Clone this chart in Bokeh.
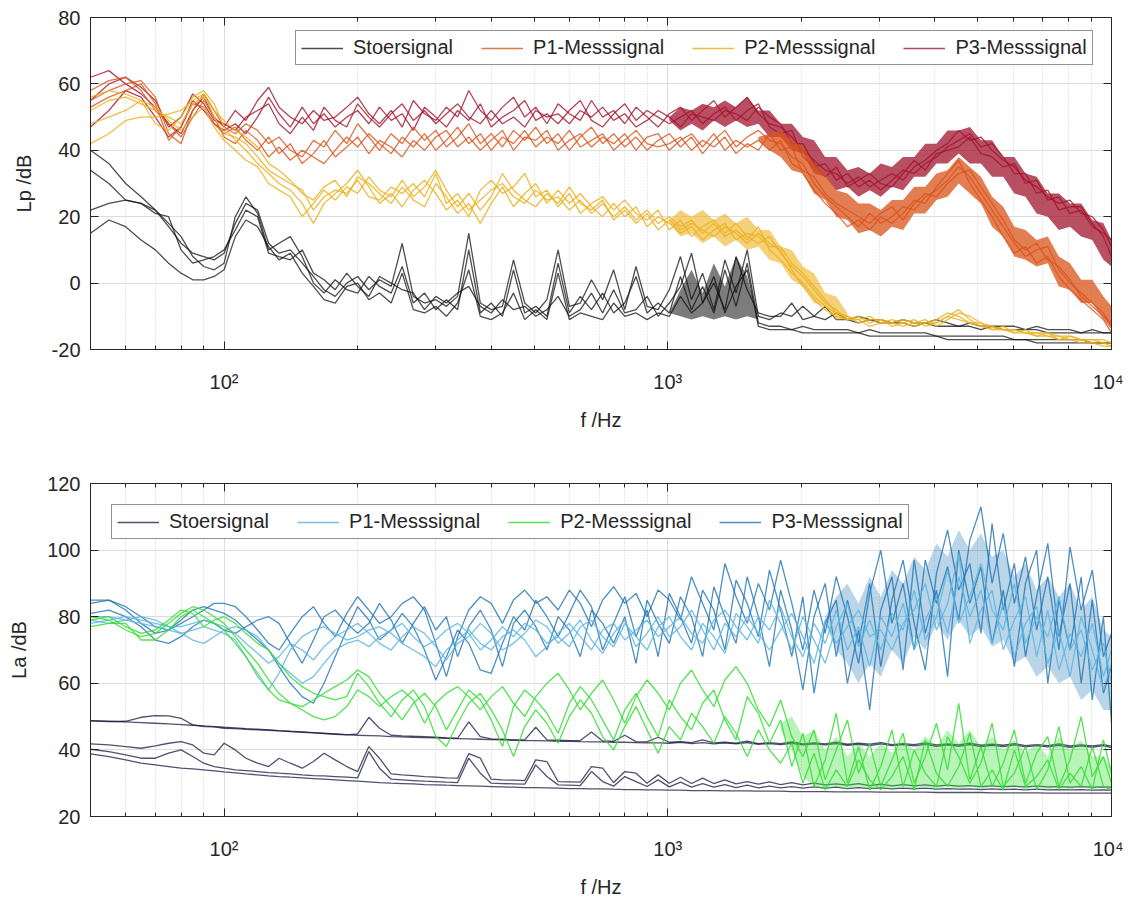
from bokeh.plotting import figure
from bokeh.models import LogAxis, LinearAxis, FixedTicker, Legend, LegendItem
from bokeh.layouts import column
from bokeh.embed import file_html
from bokeh.resources import INLINE

# ---------------- data ----------------
f_hz = [50, 55, 60, 65, 70, 75, 80, 85, 90, 95,
        100, 106, 112, 119, 126, 133, 141, 150, 159, 168,
        178, 189, 200, 212, 224, 238, 252, 267, 283, 300,
        317, 336, 356, 378, 400, 424, 449, 476, 504, 534,
        566, 600, 635, 673, 713, 755, 800, 848, 898, 951,
        1008, 1068, 1131, 1198, 1270, 1345, 1425, 1510, 1600, 1695,
        1796, 1903, 2016, 2136, 2263, 2397, 2540, 2691, 2851, 3020,
        3200, 3390, 3592, 3805, 4032, 4271, 4525, 4794, 5079, 5381,
        5701, 6040, 6400, 6780, 7184, 7611, 8063, 8543, 9051, 9589, 10000]

# top panel: Lp /dB
lp_stoer_1 = [40, 36, 30, 26, 22, 17, 12, 9, 8, 7,
              9, 18, 24, 22, 12, 9, 10, 6, 2, -2,
              -4, 0, 2, -2, 1, -1, 12, -4, -6, -5,
              -7, -4, 15, -6, -8, -7, 7, -6, -9, -5,
              10, -7, -6, 1, -5, 4, -8, 5, -7, -8,
              -2, 8, -5, 3, -8, 7, -3, 10, -10, -11,
              -9, -10, -7, -10, -11, -9, -11, -10, -11, -11,
              -12, -11, -12, -12, -11, -12, -13, -12, -13, -13,
              -13, -13, -14, -13, -14, -14, -14, -15, -14, -15, -15]
lp_stoer_2 = [34, 30, 25, 24, 22, 18, 14, 8, 5, 4,
              6, 20, 26, 21, 10, 12, 14, 8, 0, -3,
              1, -2, -3, 2, -1, -3, 5, -6, -3, -8,
              -5, -8, 10, -9, -6, -10, 4, -9, -7, -10,
              6, -9, -4, -8, -3, -9, -6, 2, -9, -6,
              -9, 2, -8, -1, -9, 4, -7, 6, -12, -13,
              -13, -14, -13, -14, -14, -14, -14, -15, -14, -15,
              -15, -15, -15, -15, -16, -16, -16, -16, -16, -16,
              -16, -17, -17, -17, -17, -17, -17, -17, -18, -18, -18]
lp_stoer_3 = [22, 24, 25, 24, 21, 20, 10, 6, 7, 8,
              10, 16, 22, 20, 9, 8, 7, 10, 3, 1,
              -2, 3, -1, -4, 2, 0, -2, -3, -8, -4,
              -6, -3, -1, -7, -9, -5, -8, -7, -10, -8,
              -4, -10, -8, -3, -9, -2, -9, -8, -4, -10,
              -6, -1, 9, -6, 0, -8, 8, -2, -9, -10,
              -10, -6, -11, -10, -7, -11, -11, -12, -11, -12,
              -12, -12, -13, -12, -13, -13, -13, -13, -14, -13,
              -14, -14, -14, -14, -15, -15, -15, -15, -15, -15, -15]
lp_stoer_4 = [15, 19, 17, 13, 10, 6, 3, 1, 1, 2,
              4, 14, 19, 17, 11, 7, 9, 3, -1, -5,
              -6, -1, 0, -5, -3, -6, 3, -8, -9, -7,
              -10, -6, 4, -10, -11, -9, -3, -11, -8, -11,
              3, -11, -9, -10, -11, -6, -10, -9, -11, -9,
              -10, -4, -9, -6, 2, -9, -1, 4, -13, -14,
              -14, -14, -15, -15, -15, -15, -15, -15, -16, -16,
              -16, -16, -16, -16, -16, -17, -17, -17, -17, -17,
              -17, -17, -17, -18, -18, -18, -18, -18, -18, -18, -18]
# dense part of the Stoersignal spectra (1.0 - 1.6 kHz), lower / upper edge
lp_stoer_band_lo = [-9, -10, -11, -10, -11, -10, -11, -10, -11]
lp_stoer_band_hi = [-9, -2, 4, -3, 6, -1, 8, 2, -11]

lp_p1_1 = [55, 58, 60, 61, 56, 45, 42, 52, 57, 52,
           47, 45, 48, 46, 42, 44, 40, 38, 43, 41,
           46, 42, 48, 44, 40, 45, 42, 47, 43, 46,
           41, 44, 48, 42, 45, 41, 46, 43, 47, 42,
           45, 40, 44, 47, 42, 45, 41, 44, 40, 43,
           45, 41, 44, 39, 43, 46, 41, 44, 46, 43,
           42, 38, 36, 30, 26, 23, 20, 17, 21, 18,
           20, 23, 22, 26, 28, 31, 35, 32, 27, 22,
           17, 12, 8, 10, 11, 4, 0, -3, -6, -9, -13]
lp_p1_2 = [58, 61, 62, 58, 52, 48, 44, 50, 55, 50,
           44, 42, 46, 43, 38, 41, 37, 40, 38, 36,
           40, 44, 41, 45, 42, 39, 44, 41, 45, 40,
           43, 47, 42, 45, 40, 44, 42, 46, 41, 44,
           42, 46, 41, 43, 45, 40, 43, 46, 42, 41,
           42, 44, 40, 43, 41, 44, 39, 42, 40, 45,
           40, 41, 33, 28, 24, 21, 17, 19, 16, 20,
           18, 21, 25, 24, 29, 33, 37, 30, 25, 20,
           14, 9, 11, 6, 8, 2, -2, -5, -8, -11, -15]
lp_p1_3 = [53, 56, 58, 60, 54, 43, 47, 54, 53, 48,
           45, 47, 43, 40, 44, 39, 42, 36, 39, 43,
           38, 41, 44, 39, 43, 41, 38, 43, 40, 44,
           46, 41, 44, 40, 43, 46, 40, 44, 43, 46,
           40, 43, 45, 41, 44, 42, 45, 40, 44, 45,
           40, 43, 45, 41, 45, 40, 43, 41, 43, 40,
           43, 36, 34, 32, 27, 24, 22, 20, 18, 21,
           23, 19, 24, 27, 26, 30, 33, 34, 29, 24,
           19, 13, 10, 12, 7, 5, 1, -4, -7, -10, -12]
# dense part of P1 (1.6 - 10 kHz)
lp_p1_band_lo = [43, 40, 38, 34, 33, 27, 25, 20, 19, 15, 16, 14, 17, 16, 21, 21, 25,
                 26, 30, 27, 24, 17, 14, 8, 7, 5, 6, -1, -2, -6, -6, -11, -14]
lp_p1_band_hi = [44, 45, 46, 43, 41, 36, 33, 28, 27, 24, 24, 22, 25, 25, 29, 29, 33,
                 34, 38, 35, 32, 26, 23, 17, 16, 13, 14, 8, 6, 1, 1, -4, -7]

lp_p2_1 = [42, 45, 49, 50, 50, 51, 52, 55, 57, 50,
           45, 44, 42, 38, 34, 32, 30, 28, 22, 26,
           28, 27, 31, 26, 25, 29, 27, 30, 26, 33,
           24, 27, 22, 25, 28, 30, 26, 24, 28, 25,
           26, 22, 25, 21, 24, 20, 23, 19, 22, 18,
           20, 17, 19, 15, 18, 14, 16, 13, 17, 10,
           7, 3, 0, -4, -7, -9, -10, -11, -10, -12,
           -12, -11, -12, -12, -11, -9, -10, -12, -13, -14,
           -14, -15, -15, -16, -16, -17, -17, -18, -18, -19, -19]
lp_p2_2 = [56, 58, 57, 55, 48, 46, 50, 56, 58, 54,
           47, 43, 40, 36, 33, 30, 28, 24, 18, 24,
           27, 30, 34, 29, 24, 27, 23, 28, 31, 27,
           22, 25, 20, 28, 31, 27, 29, 33, 26, 28,
           23, 27, 21, 24, 26, 22, 25, 21, 19, 22,
           16, 19, 14, 17, 19, 15, 18, 14, 12, 14,
           9, 5, 2, -2, -6, -8, -11, -10, -12, -11,
           -13, -12, -11, -13, -12, -10, -8, -11, -13, -13,
           -14, -14, -15, -15, -16, -16, -17, -17, -17, -18, -18]
lp_p2_3 = [52, 55, 56, 54, 52, 50, 48, 54, 56, 52,
           49, 46, 44, 41, 36, 34, 31, 27, 25, 29,
           31, 26, 32, 30, 27, 24, 29, 25, 23, 30,
           26, 21, 24, 18, 24, 29, 23, 27, 30, 24,
           28, 24, 27, 23, 20, 24, 20, 23, 17, 20,
           18, 15, 17, 13, 16, 18, 13, 15, 14, 11,
           11, 6, 3, -1, -5, -9, -10, -12, -11, -11,
           -12, -13, -12, -11, -13, -11, -9, -10, -12, -14,
           -13, -15, -14, -16, -15, -17, -16, -17, -18, -18, -19]
lp_p2_4 = [48, 50, 52, 55, 53, 49, 46, 50, 53, 47,
           43, 40, 37, 35, 30, 28, 26, 20, 24, 28,
           25, 29, 27, 32, 28, 26, 31, 26, 29, 34,
           28, 23, 27, 22, 26, 33, 28, 25, 23, 27,
           24, 29, 24, 22, 25, 19, 22, 18, 21, 16,
           19, 16, 18, 16, 14, 17, 15, 12, 15, 12,
           10, 4, -1, -5, -8, -10, -11, -11, -13, -12,
           -11, -12, -13, -12, -12, -10, -11, -12, -12, -13,
           -14, -14, -15, -15, -15, -16, -16, -17, -17, -17, -18]
# dense part of P2 (1.0 - 2.5 kHz)
lp_p2_band_lo = [18, 14, 15, 12, 14, 11, 13, 10, 11, 7, 6, 1, -1, -6, -7, -11, -11]
lp_p2_band_hi = [19, 22, 20, 22, 19, 21, 18, 20, 16, 16, 11, 10, 5, 3, -3, -4, -9]

lp_p3_1 = [62, 64, 60, 57, 53, 48, 45, 52, 56, 50,
           47, 52, 49, 55, 59, 53, 50, 48, 52, 49,
           50, 53, 56, 51, 48, 52, 47, 55, 51, 49,
           53, 50, 58, 52, 49, 53, 56, 50, 53, 48,
           54, 51, 49, 55, 50, 52, 48, 53, 50, 47,
           51, 53, 49, 52, 55, 50, 53, 56, 51, 48,
           47, 44, 40, 37, 34, 33, 30, 32, 29, 31,
           33, 31, 35, 37, 40, 42, 46, 43, 44, 40,
           37, 35, 31, 29, 26, 24, 25, 21, 20, 16, 11]
lp_p3_2 = [47, 52, 58, 56, 50, 44, 47, 55, 52, 48,
           46, 48, 45, 50, 56, 51, 47, 53, 48, 51,
           47, 50, 52, 48, 53, 49, 51, 46, 53, 50,
           47, 52, 49, 54, 47, 50, 52, 55, 49, 51,
           48, 52, 55, 49, 47, 51, 54, 49, 52, 50,
           48, 50, 52, 48, 51, 53, 49, 52, 54, 47,
           45, 46, 38, 35, 36, 31, 33, 29, 31, 28,
           31, 34, 33, 36, 38, 41, 43, 45, 41, 42,
           38, 33, 33, 27, 28, 22, 23, 23, 18, 14, 8]
lp_p3_3 = [55, 60, 62, 59, 55, 47, 50, 57, 54, 49,
           48, 46, 50, 52, 54, 48, 45, 50, 46, 53,
           49, 47, 54, 50, 47, 51, 54, 49, 52, 48,
           51, 54, 50, 48, 52, 48, 50, 47, 52, 50,
           51, 48, 52, 50, 53, 49, 51, 47, 49, 52,
           50, 47, 51, 50, 49, 52, 51, 49, 53, 50,
           48, 42, 42, 36, 32, 35, 29, 31, 33, 30,
           29, 33, 37, 34, 39, 40, 41, 44, 39, 38,
           35, 36, 30, 31, 25, 26, 21, 22, 17, 15, 13]
# dense part of P3 (1.0 - 10 kHz)
lp_p3_band_lo = [49, 46, 48, 46, 49, 47, 49, 47, 48, 44, 44, 40, 39, 33, 32, 28, 29, 26, 28, 26, 29,
                 28, 32, 32, 36, 36, 39, 36, 36, 32, 32, 27, 26, 21, 20, 16, 17, 14, 13, 7, 5]
lp_p3_band_hi = [50, 53, 52, 54, 53, 55, 53, 56, 52, 52, 48, 48, 44, 43, 38, 38, 34, 35, 33, 36, 35,
                 38, 38, 42, 42, 46, 46, 47, 43, 43, 38, 38, 33, 32, 27, 27, 24, 24, 19, 18, 13]

# bottom panel: La /dB
la_stoer_1 = [48.8, 48.6, 48.4, 48.2, 48.0, 47.8, 47.6, 47.4, 47.2, 47.0,
              46.8, 46.6, 46.4, 46.2, 46.0, 45.8, 45.6, 45.4, 45.2, 45.0,
              44.8, 44.6, 44.4, 44.3, 44.2, 44.0, 43.9, 43.8, 43.7, 43.6,
              43.5, 43.4, 43.3, 43.2, 43.1, 43.0, 42.9, 42.8, 42.8, 42.7,
              42.6, 42.6, 42.5, 42.4, 42.4, 42.3, 42.3, 42.2, 42.1, 42.1,
              42.0, 42.3, 41.9, 42.2, 41.8, 42.1, 41.8, 42.2, 41.7, 41.9,
              41.6, 42.0, 41.5, 41.8, 41.5, 41.9, 41.4, 41.7, 41.3, 41.8,
              41.3, 41.6, 41.2, 41.7, 41.1, 41.5, 41.1, 41.6, 41.0, 41.4,
              41.0, 41.5, 40.9, 41.3, 40.9, 41.4, 40.8, 41.2, 40.8, 41.3, 40.7]
la_stoer_2 = [48.7, 48.5, 48.6, 49.8, 50.3, 50.2, 49.5, 47.5, 47.0, 46.9,
              46.5, 46.4, 46.2, 46.0, 45.9, 45.7, 45.5, 45.3, 45.1, 44.9,
              44.7, 44.5, 44.8, 49.8, 46.5, 44.4, 44.2, 44.1, 44.0, 43.8,
              43.6, 43.5, 48.4, 44.0, 43.3, 43.2, 43.0, 43.0, 46.8, 43.0,
              42.9, 42.8, 42.8, 45.4, 42.7, 42.6, 44.4, 42.5, 42.4, 43.8,
              42.3, 42.5, 42.2, 43.0, 42.1, 42.3, 42.0, 42.6, 41.9, 42.2,
              41.9, 42.4, 41.8, 42.1, 41.8, 42.3, 41.7, 42.0, 41.7, 42.2,
              41.6, 41.9, 41.6, 42.1, 41.5, 41.8, 41.5, 42.0, 41.4, 41.7,
              41.4, 41.9, 41.3, 41.6, 41.3, 41.8, 41.2, 41.5, 41.2, 41.6, 41.1]
la_stoer_3 = [41.8, 41.5, 41.0, 40.5, 41.2, 42.0, 42.5, 41.5, 39.0, 38.5,
              42.0, 40.0, 37.5, 36.0, 35.0, 37.5, 36.0, 34.5, 36.5, 39.0,
              37.0, 35.0, 33.5, 41.0, 37.5, 32.8, 32.5, 32.3, 32.0, 31.8,
              31.6, 31.5, 38.9, 37.5, 31.2, 31.0, 30.9, 30.8, 37.0, 36.5,
              30.5, 30.4, 30.3, 35.0, 34.5, 30.2, 33.5, 33.0, 30.0, 32.5,
              30.0, 31.8, 29.9, 31.5, 29.9, 31.0, 29.8, 30.5, 29.7, 30.4,
              29.6, 30.2, 29.5, 30.0, 29.5, 29.8, 29.4, 29.9, 29.3, 29.7,
              29.2, 29.6, 29.2, 29.5, 29.1, 29.4, 29.1, 29.3, 29.0, 29.2,
              29.0, 29.1, 28.9, 29.1, 28.9, 29.0, 28.8, 29.0, 28.8, 28.9, 28.8]
la_stoer_4 = [40.2, 39.5, 38.5, 37.5, 37.5, 39.0, 40.0, 38.0, 36.0, 35.0,
              34.5, 34.0, 33.8, 33.5, 33.2, 33.0, 32.8, 32.5, 32.3, 32.2,
              32.0, 31.8, 31.6, 39.5, 34.5, 31.2, 31.0, 30.8, 30.6, 30.5,
              30.3, 30.2, 37.5, 33.0, 30.0, 29.9, 29.8, 29.7, 35.5, 32.0,
              29.5, 29.4, 29.3, 33.5, 30.5, 29.1, 32.0, 30.5, 29.0, 31.0,
              28.9, 30.3, 28.8, 29.9, 28.8, 29.6, 28.7, 29.4, 28.6, 29.1,
              28.6, 29.0, 28.5, 28.9, 28.5, 28.8, 28.4, 28.7, 28.4, 28.6,
              28.3, 28.5, 28.3, 28.5, 28.2, 28.4, 28.2, 28.3, 28.1, 28.3,
              28.1, 28.2, 28.0, 28.2, 28.0, 28.1, 28.0, 28.1, 27.9, 28.0, 27.9]
la_stoer_5 = [38.8, 38.0, 37.0, 36.0, 35.5, 35.0, 34.5, 34.3, 34.0, 33.7,
              33.4, 33.1, 32.8, 32.5, 32.2, 32.0, 31.8, 31.6, 31.4, 31.2,
              31.0, 30.8, 30.6, 30.4, 30.2, 30.0, 29.9, 29.8, 29.6, 29.5,
              29.4, 29.3, 29.2, 29.1, 29.0, 28.9, 28.8, 28.7, 28.7, 28.6,
              28.5, 28.4, 28.4, 28.3, 28.3, 28.2, 28.1, 28.1, 28.0, 28.0,
              27.9, 27.9, 27.8, 27.8, 27.8, 27.7, 27.7, 27.7, 27.6, 27.6,
              27.6, 27.5, 27.5, 27.5, 27.5, 27.4, 27.4, 27.4, 27.4, 27.3,
              27.3, 27.3, 27.3, 27.3, 27.2, 27.2, 27.2, 27.2, 27.2, 27.1,
              27.1, 27.1, 27.1, 27.1, 27.0, 27.0, 27.0, 27.0, 27.0, 27.0, 27.0]

la_p1_1 = [80, 80, 79, 78, 77, 76, 75, 76, 77, 76,
           75, 73, 68, 62, 58, 63, 70, 74, 76, 77,
           75, 73, 74, 76, 77, 75, 72, 70, 68, 65,
           70, 73, 76, 72, 70, 74, 76, 73, 68, 71,
           75, 78, 74, 70, 76, 78, 73, 76, 79, 74,
           77, 80, 75, 72, 79, 82, 77, 73, 80, 76,
           83, 74, 68, 78, 72, 82, 70, 77, 65, 80,
           74, 84, 70, 79, 86, 75, 92, 80, 88, 72,
           84, 68, 78, 83, 66, 76, 62, 80, 70, 58, 66]
la_p1_2 = [79, 78, 79, 80, 79, 77, 75, 73, 72, 74,
           76, 77, 76, 74, 70, 66, 63, 60, 62, 66,
           70, 72, 73, 71, 74, 76, 78, 74, 71, 73,
           76, 78, 75, 70, 73, 77, 74, 78, 76, 72,
           74, 71, 77, 79, 74, 71, 78, 74, 70, 77,
           80, 74, 70, 78, 74, 69, 81, 77, 72, 85,
           78, 70, 80, 73, 66, 77, 84, 71, 79, 70,
           81, 76, 88, 73, 80, 94, 78, 86, 96, 82,
           76, 90, 72, 80, 74, 86, 70, 76, 64, 72, 60]
la_p1_3 = [78, 79, 80, 79, 78, 77, 77, 78, 79, 78,
           77, 75, 72, 69, 66, 68, 72, 70, 67, 71,
           74, 76, 78, 75, 72, 70, 74, 77, 75, 71,
           67, 72, 74, 78, 75, 70, 72, 75, 79, 77,
           72, 75, 79, 73, 69, 75, 79, 71, 75, 80,
           74, 77, 82, 76, 70, 78, 74, 80, 75, 70,
           76, 81, 74, 66, 79, 72, 77, 82, 74, 76,
           70, 78, 82, 90, 76, 84, 99, 72, 82, 88,
           70, 79, 86, 68, 82, 64, 75, 68, 78, 62, 70]

la_p2_1 = [80, 79, 76, 74, 75, 78, 81, 83, 82, 80,
           78, 74, 70, 66, 61, 57, 54, 52, 50, 49,
           50, 53, 58, 56, 53, 56, 58, 55, 48, 54,
           57, 59, 56, 52, 56, 59, 54, 50, 56, 60,
           63, 58, 52, 57, 61, 55, 48, 56, 61, 57,
           52, 60, 64, 58, 53, 61, 65, 60, 52, 47,
           55, 44, 38, 46, 31, 40, 49, 33, 42, 29,
           37, 45, 30, 38, 48, 34, 54, 31, 41, 29,
           36, 46, 30, 39, 44, 29, 37, 50, 32, 38, 30]
la_p2_2 = [77, 78, 78, 73, 73, 76, 80, 82, 80, 78,
           76, 72, 68, 63, 58, 55, 54, 53, 55, 57,
           59, 61, 64, 62, 57, 53, 49, 54, 57, 53,
           46, 52, 58, 55, 49, 41, 53, 58, 55, 51,
           45, 54, 59, 55, 49, 43, 52, 57, 50, 44,
           55, 50, 46, 54, 58, 49, 43, 56, 51, 42,
           49, 35, 45, 29, 37, 51, 30, 41, 28, 35,
           46, 29, 40, 33, 29, 44, 38, 30, 36, 48,
           29, 33, 41, 28, 34, 47, 30, 35, 28, 43, 33]
la_p2_3 = [79, 80, 77, 75, 76, 79, 82, 81, 77, 79,
           80, 78, 75, 72, 70, 66, 62, 59, 57, 56,
           55, 56, 63, 59, 54, 50, 55, 58, 53, 44,
           41, 48, 54, 57, 52, 46, 38, 47, 52, 48,
           42, 50, 55, 51, 44, 40, 47, 53, 46, 39,
           47, 43, 51, 47, 42, 50, 45, 38, 46, 40,
           36, 42, 30, 39, 28, 34, 29, 37, 31, 28,
           32, 38, 28, 43, 33, 29, 35, 45, 29, 34,
           28, 40, 29, 32, 37, 28, 33, 29, 41, 29, 28]
# dense part of P2 (1.8 - 10 kHz)
la_p2_band_lo = [46, 40, 32, 29, 28, 29, 28, 29, 28, 29, 28, 29, 28, 29, 28, 29,
                 28, 29, 28, 29, 28, 29, 28, 29, 28, 29, 28, 29, 28, 29, 28]
la_p2_band_hi = [48, 50, 44, 46, 40, 44, 38, 42, 38, 42, 39, 43, 40, 44, 41, 46,
                 42, 46, 41, 44, 40, 43, 39, 42, 38, 44, 40, 43, 38, 38, 35]

la_p3_1 = [85, 85, 83, 80, 77, 76, 78, 80, 82, 84,
           84, 83, 80, 76, 72, 70, 75, 80, 83, 78,
           74, 81, 86, 82, 78, 80, 84, 86, 82, 72,
           62, 74, 82, 86, 84, 78, 85, 88, 84, 86,
           82, 88, 84, 77, 85, 89, 84, 87, 80, 88,
           85, 79, 92, 84, 76, 96, 86, 78, 90, 82,
           97, 84, 70, 88, 75, 92, 80, 66, 87, 100,
           78, 90, 70, 97, 84, 95, 79, 103, 113, 90,
           105, 84, 98, 76, 92, 70, 101, 82, 94, 68, 75]
la_p3_2 = [84, 85, 82, 78, 75, 76, 79, 82, 83, 82,
           81, 79, 76, 73, 70, 65, 60, 56, 54, 60,
           68, 76, 83, 79, 73, 76, 81, 77, 70, 61,
           68, 76, 72, 64, 63, 72, 80, 76, 85, 80,
           74, 81, 88, 83, 70, 78, 86, 74, 82, 68,
           87, 80, 72, 88, 82, 70, 91, 84, 74, 94,
           82, 68, 86, 57, 78, 85, 60, 76, 52, 82,
           92, 64, 97, 75, 88, 62, 100, 84, 95, 72,
           88, 65, 90, 100, 60, 85, 70, 92, 55, 80, 48]
la_p3_3 = [81, 82, 80, 77, 73, 72, 74, 77, 79, 78,
           76, 75, 77, 79, 80, 78, 72, 66, 73, 80,
           82, 78, 75, 78, 84, 79, 72, 78, 83, 76,
           80, 68, 77, 82, 76, 65, 78, 82, 77, 70,
           80, 76, 68, 82, 78, 72, 80, 66, 85, 78,
           72, 86, 80, 68, 89, 80, 72, 92, 80, 65,
           88, 76, 58, 80, 90, 68, 85, 72, 90, 65,
           85, 97, 78, 64, 93, 106, 88, 96, 75, 108,
           82, 96, 68, 86, 102, 74, 90, 60, 85, 57, 65]
# dense part of P3 (2.3 - 10 kHz)
la_p3_band_lo = [78, 70, 66, 60, 66, 62, 70, 66, 74, 70, 78, 73, 79, 74,
                 77, 71, 73, 66, 68, 62, 65, 60, 62, 55, 58, 52, 52]
la_p3_band_hi = [80, 86, 90, 84, 92, 86, 94, 90, 98, 94, 102, 98, 106, 100,
                 105, 98, 100, 92, 96, 88, 92, 86, 90, 82, 86, 76, 74]

legend_labels = ["Stoersignal", "P1-Messsignal", "P2-Messsignal", "P3-Messsignal"]
x_major = [100, 1000, 10000]
x_minor = [50, 60, 70, 80, 90, 200, 300, 400, 500, 600, 700, 800, 900,
           2000, 3000, 4000, 5000, 6000, 7000, 8000, 9000]
x_major_labels = {100: "10\u00b2", 1000: "10\u00b3", 10000: "10\u2074"}
lp_ticks = [-20, 0, 20, 40, 60, 80]
la_ticks = [20, 40, 60, 80, 100, 120]

# ---------------- styling ----------------
FONT = "Liberation Sans"
TXT = "#262626"
AX = "#262626"


def make_fig(yr, yticks, ylabel, fh, btop, bbot):
    p = figure(x_axis_type="log", x_range=(50, 10000), y_range=yr,
               frame_width=1021, frame_height=fh,
               min_border_left=90, min_border_right=12,
               min_border_top=btop, min_border_bottom=bbot,
               output_backend="svg", toolbar_location=None)
    p.background_fill_color = "white"
    p.border_fill_color = "white"
    p.outline_line_color = AX
    xt = FixedTicker(ticks=x_major, minor_ticks=x_minor)
    yt = FixedTicker(ticks=yticks, minor_ticks=[])
    xa = p.xaxis[0]
    xa.ticker = xt
    xa.major_label_overrides = x_major_labels
    ya = p.yaxis[0]
    ya.ticker = yt
    ya.major_label_overrides = {t: str(t) for t in yticks}
    for a in (xa, ya):
        a.major_tick_in = 8
        a.major_tick_out = 0
        a.minor_tick_in = 4
        a.minor_tick_out = 0
        a.axis_line_color = AX
        a.major_tick_line_color = AX
        a.minor_tick_line_color = AX
        a.major_label_text_font = FONT
        a.major_label_text_font_size = "20px"
        a.major_label_text_color = TXT
        a.axis_label_text_font = FONT
        a.axis_label_text_font_size = "20px"
        a.axis_label_text_font_style = "normal"
        a.axis_label_text_color = TXT
    xa.axis_label = "f /Hz"
    xa.major_label_standoff = 21
    xa.axis_label_standoff = 13
    ya.axis_label = ylabel
    ya.major_label_standoff = 10
    ya.axis_label_standoff = 14

    # tick marks on the right and top edges (box), without labels
    ra = LinearAxis(ticker=yt, major_label_text_font_size="1px", major_label_text_color=None,
                    major_label_standoff=0,
                    major_tick_in=8, major_tick_out=0, axis_line_color=AX,
                    major_tick_line_color=AX)
    p.add_layout(ra, "right")
    ta = LogAxis(ticker=xt, major_label_text_font_size="1px", major_label_text_color=None,
                 major_label_standoff=0,
                 major_tick_in=8, major_tick_out=0, minor_tick_in=4, minor_tick_out=0,
                 axis_line_color=AX, major_tick_line_color=AX, minor_tick_line_color=AX)
    p.add_layout(ta, "above")

    p.xgrid.ticker = xt
    p.ygrid.ticker = yt
    p.xgrid.grid_line_color = "#dcdcdc"
    p.xgrid.minor_grid_line_color = "#d0d0d0"
    p.xgrid.minor_grid_line_dash = "1 2"
    p.ygrid.grid_line_color = "#dcdcdc"
    return p


def add_group(p, series, color, alpha=0.8, width=1.3):
    rs = []
    for s in series:
        rs.append(p.line(f_hz, s, line_color=color, line_alpha=alpha, line_width=width))
    return rs


def add_band(p, i0, lo, hi, color, alpha):
    xs = f_hz[i0:i0 + len(lo)]
    p.varea(x=xs, y1=lo, y2=hi, fill_color=color, fill_alpha=alpha)


def add_legend(p, first, loc):
    items = [LegendItem(label=lab, renderers=[r]) for lab, r in zip(legend_labels, first)]
    lg = Legend(items=items, orientation="horizontal", location=loc,
                glyph_width=42, glyph_height=20, label_standoff=10, spacing=28,
                padding=5, margin=0, label_height=20,
                label_text_font=FONT, label_text_font_size="20px", label_text_color=TXT,
                border_line_color=AX, border_line_width=1,
                background_fill_color="white", background_fill_alpha=1.0)
    p.add_layout(lg)


C_S, C_P1, C_P2, C_P3 = "#111111", "#D95319", "#EDB120", "#A2142F"
D_S, D_P1, D_P2, D_P3 = "#16163f", "#5cb6e2", "#35de35", "#1f73b4"

# ---------------- top panel ----------------
p1 = make_fig((-20, 80), lp_ticks, "Lp /dB", 332, 17, 94)
g_s = add_group(p1, [lp_stoer_1, lp_stoer_2, lp_stoer_3, lp_stoer_4], C_S, 0.75)
add_band(p1, 50, lp_stoer_band_lo, lp_stoer_band_hi, C_S, 0.55)
add_band(p1, 50, lp_p3_band_lo, lp_p3_band_hi, C_P3, 0.75)
g_3 = add_group(p1, [lp_p3_1, lp_p3_2, lp_p3_3], C_P3, 0.8)
add_band(p1, 58, lp_p1_band_lo, lp_p1_band_hi, C_P1, 0.75)
g_1 = add_group(p1, [lp_p1_1, lp_p1_2, lp_p1_3], C_P1, 0.8)
add_band(p1, 50, lp_p2_band_lo, lp_p2_band_hi, C_P2, 0.6)
g_2 = add_group(p1, [lp_p2_1, lp_p2_2, lp_p2_3, lp_p2_4], C_P2, 0.85)
add_legend(p1, [g_s[0], g_1[0], g_2[0], g_3[0]], (205, 284))

# ---------------- bottom panel ----------------
p2 = make_fig((20, 120), la_ticks, "La /dB", 333, 40, 71)
h_s = add_group(p2, [la_stoer_1, la_stoer_2, la_stoer_3, la_stoer_4, la_stoer_5], D_S, 0.75)
add_band(p2, 64, la_p3_band_lo, la_p3_band_hi, D_P3, 0.3)
h_3 = add_group(p2, [la_p3_1, la_p3_2, la_p3_3], D_P3, 0.8)
h_1 = add_group(p2, [la_p1_1, la_p1_2, la_p1_3], D_P1, 0.85)
add_band(p2, 60, la_p2_band_lo, la_p2_band_hi, D_P2, 0.35)
h_2 = add_group(p2, [la_p2_1, la_p2_2, la_p2_3], D_P2, 0.85)
add_legend(p2, [h_s[0], h_1[0], h_2[0], h_3[0]], (21, 277))

layout = column(p1, p2, spacing=0)
open("out.html", "w").write(file_html(layout, INLINE))
